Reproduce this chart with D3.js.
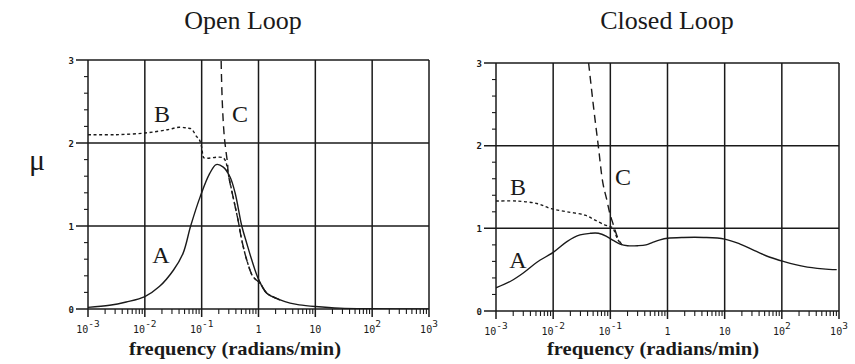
<!DOCTYPE html>
<html>
<head>
<meta charset="utf-8">
<script src="https://cdn.jsdelivr.net/npm/d3@7"></script>
<style>
  html, body { margin: 0; padding: 0; background: #fff; }
  svg { display: block; }
</style>
</head>
<body>
<svg id="chart" width="855" height="364"></svg>
<script>
// Structured singular value (mu) versus frequency, open and closed loop.
const panelTitles = ["Open Loop", "Closed Loop"];
const xTickValues = [1e-3, 1e-2, 1e-1, 1, 10, 100, 1000];
const xTickBase = ["10", "10", "10", "1", "10", "10", "10"];
const xTickExp = ["-3", "-2", "-1", "", "", "2", "3"];
const yTickValues = [0, 1, 2, 3];
const yMinorValues = [0.2, 0.4, 0.6, 0.8, 1.2, 1.4, 1.6, 1.8, 2.2, 2.4, 2.6, 2.8];
const axisTitle = "frequency (radians/min)";
const yLabel = "\u03bc";

// Open loop, curve A (solid)
const openFreqA = [0.001, 0.0024, 0.0047, 0.01, 0.018, 0.032, 0.047, 0.064, 0.095, 0.138, 0.18, 0.24, 0.316, 0.387, 0.508, 0.622, 0.762, 1, 1.4, 2.4, 3.6, 5.2, 10, 27, 100, 1000];
const openMuA   = [0.02, 0.045, 0.085, 0.15, 0.27, 0.47, 0.67, 1.0, 1.36, 1.63, 1.74, 1.71, 1.59, 1.40, 1.0, 0.79, 0.59, 0.36, 0.19, 0.11, 0.07, 0.05, 0.03, 0.01, 0.003, 0];
// Open loop, curve B (dotted)
const openFreqB = [0.001, 0.003, 0.01, 0.025, 0.04, 0.055, 0.066, 0.081, 0.091, 0.1, 0.105, 0.11, 0.2, 0.24, 0.265, 0.28, 0.292, 0.357, 0.437, 0.508, 0.622, 0.8, 1.07, 1.4, 2.4];
const openMuB   = [2.10, 2.10, 2.12, 2.16, 2.19, 2.18, 2.17, 2.08, 2.04, 1.95, 1.85, 1.82, 1.83, 1.82, 1.78, 1.71, 1.64, 1.35, 1.07, 0.83, 0.59, 0.39, 0.31, 0.19, 0.11];
// Open loop, curve C (dashed)
const openFreqC = [0.218, 0.22, 0.232, 0.25, 0.27, 0.286, 0.292, 0.357, 0.437, 0.508, 0.622, 0.8, 1.07, 1.4, 2.4];
const openMuC   = [3.3, 3.0, 2.45, 2.08, 1.88, 1.75, 1.64, 1.35, 1.07, 0.83, 0.59, 0.39, 0.31, 0.19, 0.11];

// Closed loop, curve A (solid)
const closedFreqA = [0.001, 0.0018, 0.003, 0.0052, 0.01, 0.0174, 0.0295, 0.0447, 0.062, 0.087, 0.115, 0.148, 0.2, 0.3, 0.42, 0.55, 0.74, 1, 1.9, 4.3, 10, 18.6, 36, 62, 107, 240, 525, 912];
const closedMuA   = [0.28, 0.36, 0.46, 0.59, 0.71, 0.84, 0.92, 0.94, 0.94, 0.90, 0.85, 0.81, 0.79, 0.79, 0.80, 0.83, 0.86, 0.88, 0.89, 0.89, 0.87, 0.81, 0.72, 0.65, 0.60, 0.54, 0.51, 0.50];
// Closed loop, curve B (dotted)
const closedFreqB = [0.001, 0.0023, 0.0052, 0.009, 0.0174, 0.036, 0.054, 0.081, 0.1, 0.111, 0.136, 0.16];
const closedMuB   = [1.33, 1.33, 1.30, 1.24, 1.20, 1.16, 1.10, 1.04, 1.02, 1.00, 0.86, 0.80];
// Closed loop, curve C (dashed)
const closedFreqC = [0.0417, 0.051, 0.062, 0.074, 0.087, 0.098, 0.111, 0.136, 0.16];
const closedMuC   = [3.0, 2.46, 1.98, 1.55, 1.34, 1.18, 1.06, 0.88, 0.80];

const curveLetters = ["A", "B", "C"];

const svg = d3.select("#chart");
const ink = "#1a1a1a";

const panels = [
  {
    title: panelTitles[0], titleX: 243,
    x0: 88, x1: 429, yTop: 60, yBot: 309,
    curves: [
      { f: openFreqA, m: openMuA, dash: null },
      { f: openFreqB, m: openMuB, dash: "3,2.6" },
      { f: openFreqC, m: openMuC, dash: "8,5" }
    ],
    labels: [[161, 263], [162, 122], [240, 122]],
    axisTitleX: 235
  },
  {
    title: panelTitles[1], titleX: 667,
    x0: 496, x1: 839, yTop: 63, yBot: 311,
    curves: [
      { f: closedFreqA, m: closedMuA, dash: null },
      { f: closedFreqB, m: closedMuB, dash: "3,2.6" },
      { f: closedFreqC, m: closedMuC, dash: "8,5" }
    ],
    labels: [[518, 268], [518, 195], [623, 185]],
    axisTitleX: 653
  }
];

panels.forEach((p, i) => {
  const x = d3.scaleLog().domain([1e-3, 1e3]).range([p.x0, p.x1]);
  const y = d3.scaleLinear().domain([0, 3]).range([p.yBot, p.yTop]);
  const g = svg.append("g");

  // panel title
  g.append("text")
    .attr("x", p.titleX).attr("y", 29)
    .attr("text-anchor", "middle")
    .style("font-family", "'Liberation Serif', 'Times New Roman', serif")
    .style("font-size", "26px")
    .attr("fill", ink)
    .text(p.title);

  // minor x ticks (2..9 per decade), below the axis
  const minorX = [];
  for (let d = -3; d < 3; d++) {
    for (let k = 2; k <= 9; k++) minorX.push(k * Math.pow(10, d));
  }
  g.selectAll("line.mx").data(minorX).join("line")
    .attr("x1", d => x(d)).attr("x2", d => x(d))
    .attr("y1", p.yBot).attr("y2", p.yBot + 5)
    .attr("stroke", ink).attr("stroke-width", 1.1);

  // minor y ticks, left of the axis
  g.selectAll("line.my").data(yMinorValues).join("line")
    .attr("x1", p.x0 - 4).attr("x2", p.x0)
    .attr("y1", d => y(d)).attr("y2", d => y(d))
    .attr("stroke", ink).attr("stroke-width", 1.1);

  // vertical grid at decades (extending below the axis as ticks)
  g.selectAll("line.vg").data(xTickValues).join("line")
    .attr("x1", d => x(d)).attr("x2", d => x(d))
    .attr("y1", p.yTop).attr("y2", p.yBot + 8)
    .attr("stroke", ink).attr("stroke-width", 1.5);

  // horizontal grid at integer mu (extending left as ticks)
  g.selectAll("line.hg").data(yTickValues).join("line")
    .attr("x1", p.x0 - 12).attr("x2", p.x1)
    .attr("y1", d => y(d)).attr("y2", d => y(d))
    .attr("stroke", ink).attr("stroke-width", 1.5);

  // y tick labels
  g.selectAll("text.yt").data(yTickValues).join("text")
    .attr("x", p.x0 - 14).attr("y", d => y(d) + 3.5)
    .attr("text-anchor", "end")
    .style("font-family", "'DejaVu Sans Mono', monospace")
    .style("font-size", "9px")
    .style("font-weight", "bold")
    .attr("fill", ink)
    .text(d => d);

  // x tick labels with superscript exponents
  xTickValues.forEach((v, j) => {
    const t = g.append("text")
      .attr("x", x(v)).attr("y", p.yBot + 24)
      .attr("text-anchor", "middle")
      .style("font-family", "'DejaVu Sans Mono', monospace")
      .style("font-size", "10px")
      .attr("fill", ink);
    t.append("tspan").text(xTickBase[j]);
    if (xTickExp[j]) {
      t.append("tspan").attr("dy", -6).style("font-size", "9.5px").text(xTickExp[j]);
    }
  });

  // axis title
  g.append("text")
    .attr("x", p.axisTitleX).attr("y", 355)
    .attr("text-anchor", "middle")
    .style("font-family", "'Liberation Serif', 'Times New Roman', serif")
    .style("font-size", "19px")
    .style("font-weight", "bold")
    .attr("fill", ink)
    .attr("textLength", 212)
    .attr("lengthAdjust", "spacingAndGlyphs")
    .text(axisTitle);

  // curves, clipped to the plot area
  const clipId = "clip" + i;
  svg.append("clipPath").attr("id", clipId)
    .append("rect")
    .attr("x", p.x0).attr("y", p.yTop)
    .attr("width", p.x1 - p.x0).attr("height", p.yBot - p.yTop);

  const line = d3.line()
    .x(d => x(d[0])).y(d => y(d[1]))
    .curve(d3.curveCatmullRom.alpha(0.5));

  const cg = g.append("g").attr("clip-path", `url(#${clipId})`);
  p.curves.forEach(c => {
    const pts = c.f.map((f, k) => [f, c.m[k]]);
    cg.append("path")
      .attr("d", line(pts))
      .attr("fill", "none")
      .attr("stroke", ink)
      .attr("stroke-width", 1.4)
      .attr("stroke-dasharray", c.dash);
  });

  // curve letters
  p.labels.forEach((pos, k) => {
    g.append("text")
      .attr("x", pos[0]).attr("y", pos[1])
      .attr("text-anchor", "middle")
      .style("font-family", "'Liberation Serif', 'Times New Roman', serif")
      .style("font-size", "24px")
      .attr("fill", ink)
      .text(curveLetters[k]);
  });
});

// shared y-axis symbol
svg.append("text")
  .attr("x", 37).attr("y", 170)
  .attr("text-anchor", "middle")
  .style("font-family", "'Liberation Serif', 'Times New Roman', serif")
  .style("font-size", "30px")
  .attr("fill", ink)
  .text(yLabel);
</script>
</body>
</html>
